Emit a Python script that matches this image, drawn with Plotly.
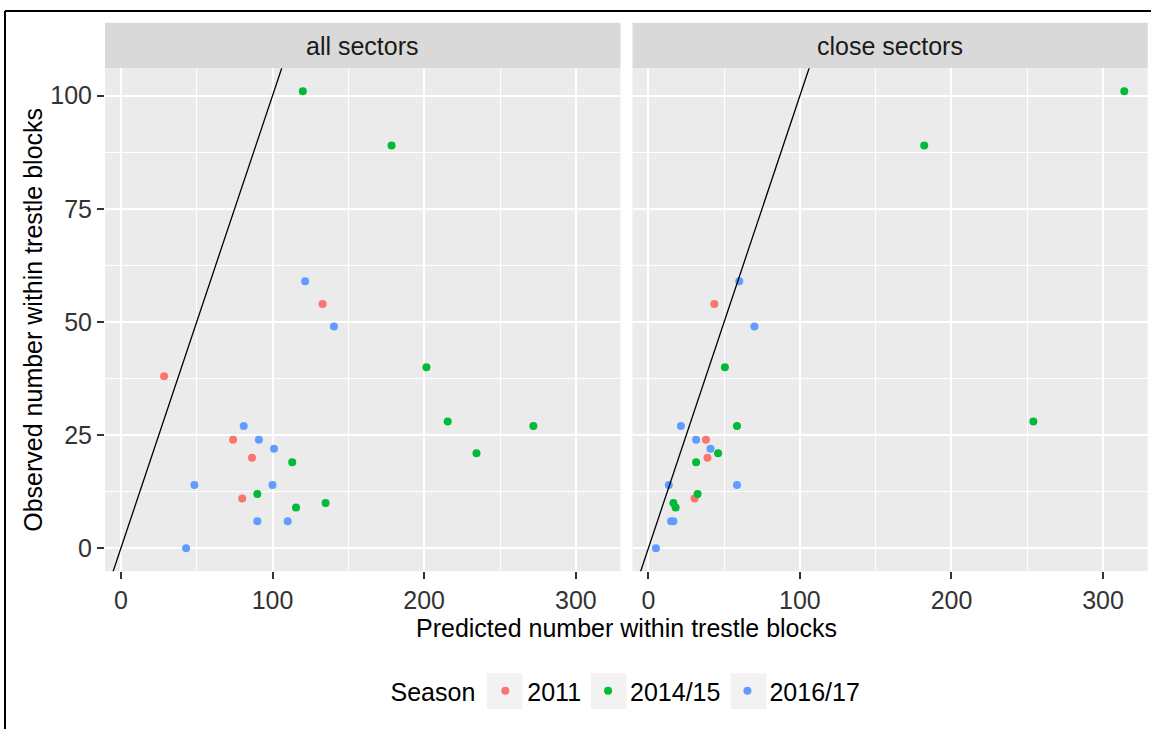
import plotly.graph_objects as go

# ---------------- data ----------------
SEASONS = ["2011", "2014/15", "2016/17"]
COLORS = ["#F8766D", "#00BA38", "#619CFF"]
PANELS = ["all sectors", "close sectors"]

season = ["2011"] * 5 + ["2014/15"] * 10 + ["2016/17"] * 10
observed = [38, 54, 24, 20, 11,
            101, 89, 40, 28, 27, 21, 19, 12, 10, 9,
            59, 49, 27, 24, 22, 14, 14, 6, 6, 0]
pred_all = [28.5, 133, 74, 86.5, 80,
            120, 178.5, 201.5, 215.5, 272, 234.5, 113, 90, 135, 115.5,
            121.5, 140.5, 81, 91, 101, 48.5, 100, 90, 110, 43]
pred_close = [None, 43.5, 38, 39, 30.5,
              314, 182, 50.5, 254, 58.5, 46, 31.5, 32.5, 16.5, 18,
              60, 70, 21.5, 31.5, 41, 13.5, 58.5, 15, 16.5, 5]

X_TICKS = [0, 100, 200, 300]
Y_TICKS = [0, 25, 50, 75, 100]
ABLINE_INTERCEPT = 0
ABLINE_SLOPE = 1

X_TITLE = "Predicted number within trestle blocks"
Y_TITLE = "Observed number within trestle blocks"
LEGEND_TITLE = "Season"

# ---------------- layout helpers ----------------
W, H = 1151, 729
FONT = "Liberation Sans, Arial, sans-serif"


def fx(p):
    return p / W


def fy(p):
    return 1 - p / H


xs = [v for v in pred_all + pred_close if v is not None]
xlo, xhi = min(xs), max(xs)
xpad = 0.05 * (xhi - xlo)
xrange_ = [xlo - xpad, xhi + xpad]
ylo, yhi = min(observed), max(observed)
ypad = 0.05 * (yhi - ylo)
yrange_ = [ylo - ypad, yhi + ypad]

PANEL_X = [(105, 620.5), (632.5, 1147.7)]
PANEL_TOP, PANEL_BOTTOM = 68.3, 571.2
STRIP_TOP = 22.7

fig = go.Figure()

preds = [pred_all, pred_close]
for pi in range(2):
    xa = "x" if pi == 0 else "x2"
    ya = "y" if pi == 0 else "y2"
    for si, s in enumerate(SEASONS):
        xv = [preds[pi][i] for i in range(len(season)) if season[i] == s]
        yv = [observed[i] for i in range(len(season)) if season[i] == s]
        fig.add_trace(go.Scatter(
            x=xv, y=yv, mode="markers", name=s, legendgroup=s,
            showlegend=(pi == 0),
            marker=dict(color=COLORS[si], size=8, line=dict(width=0)),
            xaxis=xa, yaxis=ya, hoverinfo="skip",
        ))
    # y = intercept + slope * x reference line
    lx = [xrange_[0] - 20, xrange_[1] + 20]
    ly = [ABLINE_INTERCEPT + ABLINE_SLOPE * v for v in lx]
    fig.add_trace(go.Scatter(
        x=lx, y=ly, mode="lines", showlegend=False,
        line=dict(color="black", width=1.3),
        xaxis=xa, yaxis=ya, hoverinfo="skip",
    ))

TICKFONT = dict(family=FONT, size=25, color="#333333")
axis_common = dict(
    range=xrange_, tickvals=X_TICKS, ticks="outside", ticklen=7, tickwidth=1.5,
    tickcolor="#333333", showgrid=True, gridcolor="white", gridwidth=2,
    zeroline=False, showline=False, tickfont=TICKFONT,
    minor=dict(tickvals=[-50, 50, 150, 250], showgrid=True, gridcolor="white",
               gridwidth=1.1, ticks=""),
)
yaxis_common = dict(
    range=yrange_, tickvals=Y_TICKS, ticks="outside", ticklen=7, tickwidth=1.5,
    tickcolor="#333333", showgrid=True, gridcolor="white", gridwidth=2,
    zeroline=False, showline=False, tickfont=TICKFONT,
    minor=dict(tickvals=[12.5, 37.5, 62.5, 87.5], showgrid=True,
               gridcolor="white", gridwidth=1.1, ticks=""),
    domain=[fy(PANEL_BOTTOM), fy(PANEL_TOP)],
)

fig.update_layout(
    width=W, height=H,
    margin=dict(l=0, r=0, t=0, b=0),
    paper_bgcolor="white",
    plot_bgcolor="#EBEBEB",
    font=dict(family=FONT, size=25, color="black"),
    xaxis=dict(axis_common, domain=[fx(PANEL_X[0][0]), fx(PANEL_X[0][1])], anchor="y"),
    xaxis2=dict(axis_common, domain=[fx(PANEL_X[1][0]), fx(PANEL_X[1][1])], anchor="y2"),
    yaxis=dict(yaxis_common, anchor="x"),
    yaxis2=dict(yaxis_common, anchor="x2", showticklabels=False, ticks=""),
    showlegend=True,
    legend=dict(
        orientation="h", xanchor="center", x=fx(627), yanchor="middle", y=fy(691),
        bgcolor="rgba(0,0,0,0)",
        title=dict(text=LEGEND_TITLE, side="left", font=dict(size=25, family=FONT)),
        font=dict(size=25, family=FONT, color="black"),
        itemwidth=34, tracegroupgap=0,
    ),
    hovermode=False,
)

shapes = []
annotations = []
for pi, (x0, x1) in enumerate(PANEL_X):
    shapes.append(dict(type="rect", xref="paper", yref="paper",
                       x0=fx(x0), x1=fx(x1), y0=fy(PANEL_TOP), y1=fy(STRIP_TOP),
                       fillcolor="#D9D9D9", line=dict(width=0), layer="below"))
    annotations.append(dict(text=PANELS[pi], xref="paper", yref="paper",
                            x=fx((x0 + x1) / 2), y=fy((PANEL_TOP + STRIP_TOP) / 2),
                            xanchor="center", yanchor="middle", showarrow=False,
                            font=dict(family=FONT, size=25, color="#1A1A1A")))

# legend key backgrounds
for kx in [486.7, 591, 730.7]:
    shapes.append(dict(type="rect", xref="paper", yref="paper",
                       x0=fx(kx), x1=fx(kx + 35.6), y0=fy(709), y1=fy(673.3),
                       fillcolor="#F2F2F2", line=dict(width=0), layer="below"))

# outer frame: top and left edges only are visible
shapes.append(dict(type="line", xref="paper", yref="paper",
                   x0=fx(5), x1=1.0, y0=fy(11), y1=fy(11),
                   line=dict(color="black", width=2), layer="above"))
shapes.append(dict(type="line", xref="paper", yref="paper",
                   x0=fx(5), x1=fx(5), y0=0, y1=fy(11),
                   line=dict(color="black", width=2), layer="above"))

annotations.append(dict(text=X_TITLE, xref="paper", yref="paper",
                        x=fx(626), y=fy(628), xanchor="center", yanchor="middle",
                        showarrow=False, font=dict(family=FONT, size=25, color="black")))
annotations.append(dict(text=Y_TITLE, xref="paper", yref="paper",
                        x=fx(33), y=fy((PANEL_TOP + PANEL_BOTTOM) / 2),
                        xanchor="center", yanchor="middle", textangle=-90,
                        showarrow=False, font=dict(family=FONT, size=25, color="black")))

fig.update_layout(shapes=shapes, annotations=annotations)

fig.write_html("out.html")
